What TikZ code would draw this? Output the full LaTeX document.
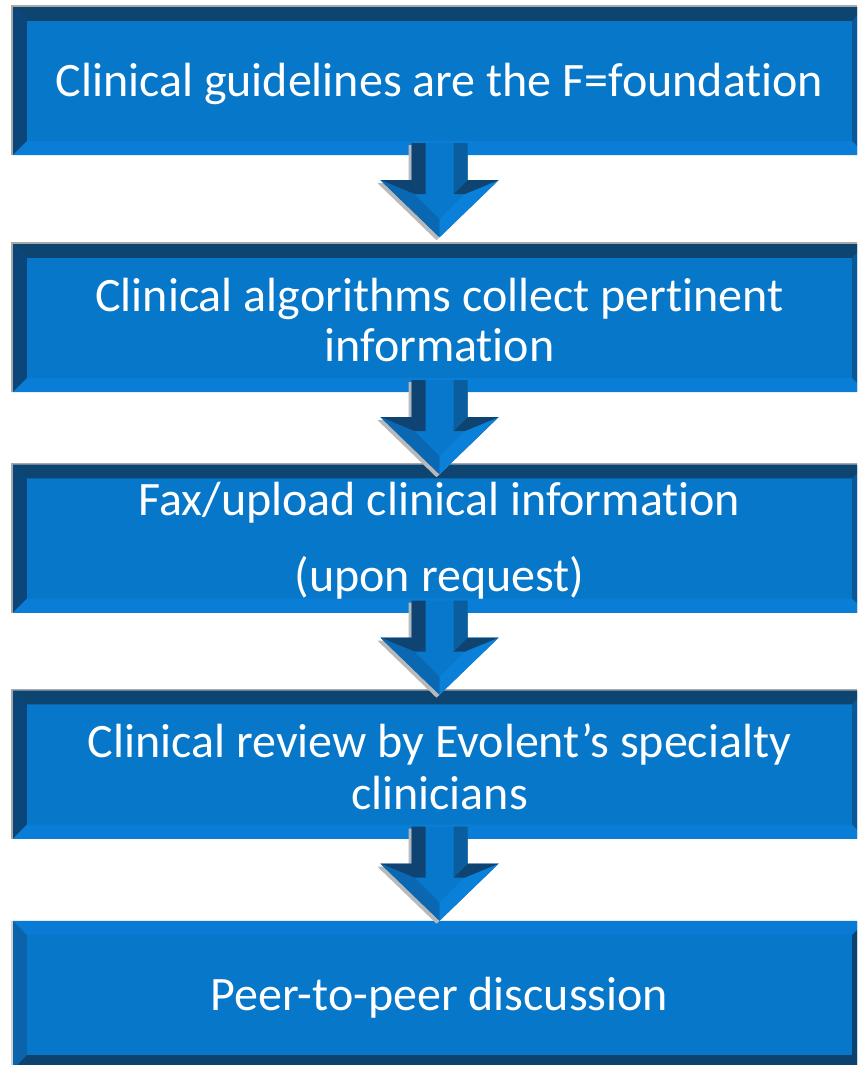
\documentclass[tikz,border=0pt]{standalone}
\usepackage{fontspec}
\setmainfont{Carlito}[RawFeature={-liga;-clig;-calt;-rlig;-dlig}]
\usetikzlibrary{calc}
\definecolor{boxmain}{HTML}{0777C9}
\definecolor{bvtop}{HTML}{0E4470}
\definecolor{bvleft}{HTML}{0A4679}
\definecolor{bvbot}{HTML}{0A7ED6}
\definecolor{bvright}{HTML}{0B5896}
\definecolor{bvtopL}{HTML}{0A7BD4}
\definecolor{bvleftL}{HTML}{0A63AB}
\definecolor{bvdark}{HTML}{0D426E}
\definecolor{arfront}{HTML}{0878CC}
\definecolor{ardark}{HTML}{0F4472}
\definecolor{arshr}{HTML}{0B5E9E}
\definecolor{arll}{HTML}{0A68B2}
\definecolor{arlr}{HTML}{0A80D8}
\definecolor{shadowgray}{HTML}{A8A8A8}
\newcommand\bvw{14}
\newcommand\nti{t\kern0pt i}
\newcommand\bevelbox[5]{%
  \fill[#2] (#1.north west) -- (#1.north east) -- ($(#1.north east)+(-\bvw,\bvw)$) -- ($(#1.north west)+(\bvw,\bvw)$) -- cycle;
  \fill[#3] (#1.north west) -- ($(#1.north west)+(\bvw,\bvw)$) -- ($(#1.south west)+(\bvw,-\bvw)$) -- (#1.south west) -- cycle;
  \fill[#4] (#1.south west) -- ($(#1.south west)+(\bvw,-\bvw)$) -- ($(#1.south east)+(-\bvw,-\bvw)$) -- (#1.south east) -- cycle;
  \fill[#5] (#1.south east) -- ($(#1.south east)+(-\bvw,-\bvw)$) -- ($(#1.north east)+(-\bvw,\bvw)$) -- (#1.north east) -- cycle;
}
\newcommand\grayedge[1]{%
  \draw[shadowgray, line width=1.5pt] ($(#1.south west)+(-0.75,0)$) -- ($(#1.north west)+(-0.75,-0.75)$) -- ($(#1.north east)+(0,-0.75)$);
}
\newcommand\flowarrow[2]{%
  \begin{scope}[shift={(#1.south)}]
    \fill[shadowgray!80] (-31,-10) -- (25,-10) -- (25,28) -- (56,28) -- (-3,85) -- (-62,28) -- (-31,28) -- cycle;
    \fill[arfront] (-28,-12) -- (28,-12) -- (28,25) -- (59,25) -- (0,82) -- (-59,25) -- (-28,25) -- cycle;
    \fill[ardark] (-28,-12) -- (-28,25) -- (-14,39) -- (-14,-12) -- cycle;
    \fill[ardark] (-28,25) -- (-59,25) -- (-25,39) -- (-14,39) -- cycle;
    \fill[arll] (-59,25) -- (0,82) -- (0,64) -- (-25,39) -- cycle;
    \fill[arlr] (0,82) -- (59,25) -- (25,39) -- (0,64) -- cycle;
    \fill[ardark] (59,25) -- (28,25) -- (14,39) -- (25,39) -- cycle;
    \fill[arshr] (28,25) -- (28,-12) -- (14,-12) -- (14,39) -- cycle;
    \coordinate (#1-#2-tip) at (0,82);
  \end{scope}
}
\begin{document}
\begin{tikzpicture}[x=1pt,y=-1pt,
  box/.style={fill=boxmain, minimum width=853pt, minimum height=148pt, inner sep=0pt},
  label/.style={text=white, inner sep=0pt, align=center, font=\fontsize{48}{50}\selectfont}]
\useasboundingbox (0,0) rectangle (857,1065);
\clip (0,0) rectangle (857,1065);
\node[box] (b1) at (439.5,81) {};
\node[box] (b2) at (439.5,318) {};
\node[box] (b3) at (439.5,538.5) {};
\node[box] (b4) at (439.5,764.5) {};
\node[box] (b5) at (439.5,995) {};
\bevelbox{b1}{bvtop}{bvleft}{bvbot}{bvright}
\bevelbox{b2}{bvtop}{bvleft}{bvbot}{bvright}
\bevelbox{b3}{bvtop}{bvleft}{bvbot}{bvright}
\bevelbox{b4}{bvtop}{bvleft}{bvbot}{bvright}
\bevelbox{b5}{bvtopL}{bvleftL}{bvdark}{bvdark}
\grayedge{b1}
\grayedge{b2}
\grayedge{b3}
\grayedge{b4}
\draw[shadowgray!50, line width=1.5pt] ($(b5.south west)+(-0.75,0)$) -- ($(b5.north west)+(-0.75,0)$);
\node[label] (t1) at ($(b1.center)+(0,3)$) {Clinical guidelines are the F=founda\nti on};
\node[label] (t2) at ($(b2.center)+(0,2)$) {Clinical algorithms collect per\nti nent\\informa\nti on};
\node[label, font=\fontsize{48}{76}\selectfont] (t3) at ($(b3.center)+(0,2)$) {Fax/upload clinical informa\nti on\\(upon request)};
\node[label, font=\fontsize{48}{52}\selectfont] (t4) at ($(b4.center)+(0,2)$) {Clinical review by Evolent’s specialty\\clinicians};
\node[label] (t5) at ($(b5.center)+(0,3)$) {Peer-to-peer discussion};
\flowarrow{b1}{b2}
\flowarrow{b2}{b3}
\flowarrow{b3}{b4}
\flowarrow{b4}{b5}
\end{tikzpicture}
\end{document}
